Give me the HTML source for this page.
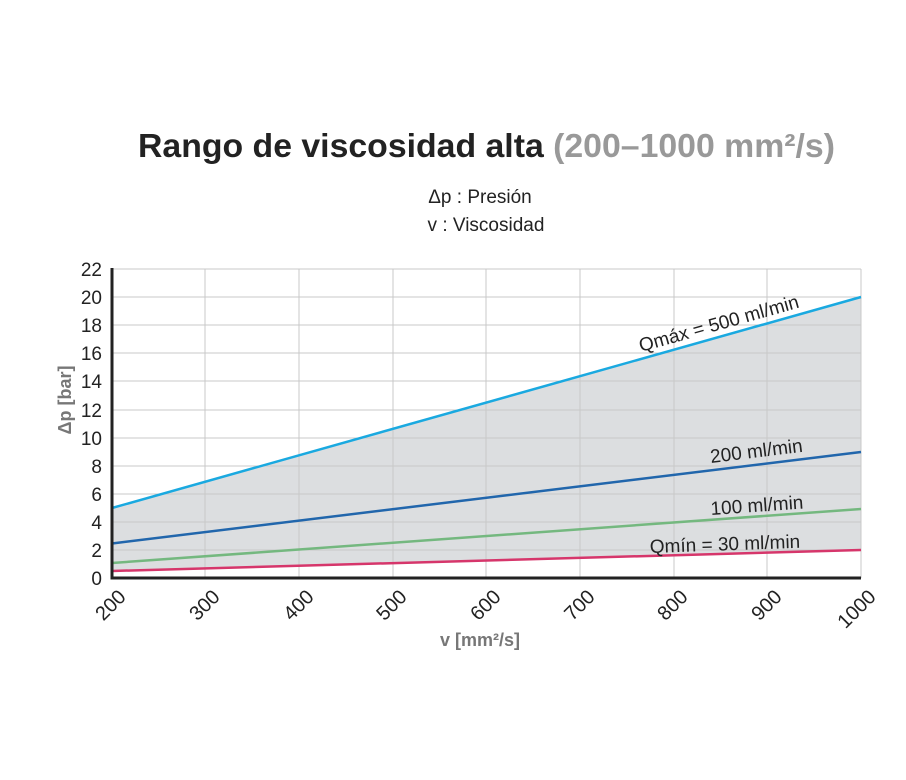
<!DOCTYPE html><html><head><style>body{margin:0;background:#fff}svg{display:block}text{font-family:"Liberation Sans",sans-serif}</style></head><body>
<svg width="906" height="780" xmlns="http://www.w3.org/2000/svg">
<text x="138" y="157" font-size="33" font-weight="bold" fill="#222" textLength="697" lengthAdjust="spacingAndGlyphs">Rango de viscosidad alta <tspan fill="#999">(200–1000 mm²/s)</tspan></text>
<text x="480" y="203" text-anchor="middle" font-size="19" fill="#222">Δp : Presión</text>
<text x="486" y="231" text-anchor="middle" font-size="19" fill="#222">v : Viscosidad</text>
<polygon points="112,508 861,297 861,550 112,571" fill="#dcdee0"/>
<g stroke="#c8c8c8" stroke-width="1">
<line x1="112" y1="550" x2="861" y2="550"/><line x1="112" y1="522" x2="861" y2="522"/><line x1="112" y1="494" x2="861" y2="494"/><line x1="112" y1="466" x2="861" y2="466"/><line x1="112" y1="438" x2="861" y2="438"/><line x1="112" y1="410" x2="861" y2="410"/><line x1="112" y1="381" x2="861" y2="381"/><line x1="112" y1="353" x2="861" y2="353"/><line x1="112" y1="325" x2="861" y2="325"/><line x1="112" y1="297" x2="861" y2="297"/><line x1="112" y1="269" x2="861" y2="269"/>
<line x1="205" y1="269" x2="205" y2="578"/><line x1="299" y1="269" x2="299" y2="578"/><line x1="393" y1="269" x2="393" y2="578"/><line x1="486" y1="269" x2="486" y2="578"/><line x1="580" y1="269" x2="580" y2="578"/><line x1="674" y1="269" x2="674" y2="578"/><line x1="767" y1="269" x2="767" y2="578"/><line x1="861" y1="269" x2="861" y2="578"/>
</g>
<g fill="none" stroke-width="2.5">
<line x1="112" y1="508" x2="861" y2="297" stroke="#1aa9e0"/>
<line x1="112" y1="543.5" x2="861" y2="452" stroke="#2166ac"/>
<line x1="112" y1="563" x2="861" y2="509" stroke="#74b87f"/>
<line x1="112" y1="571" x2="861" y2="550" stroke="#d6366b"/>
</g>
<path d="M112,268 V578 H861" fill="none" stroke="#222" stroke-width="3"/>
<g font-size="19" fill="#222" text-anchor="end">
<text x="102" y="585">0</text><text x="102" y="557">2</text><text x="102" y="529">4</text><text x="102" y="501">6</text><text x="102" y="473">8</text><text x="102" y="445">10</text><text x="102" y="417">12</text><text x="102" y="388">14</text><text x="102" y="360">16</text><text x="102" y="332">18</text><text x="102" y="304">20</text><text x="102" y="276">22</text>
</g>
<g font-size="20" fill="#222" text-anchor="end">
<text transform="translate(127,598) rotate(-45)">200</text><text transform="translate(221,598) rotate(-45)">300</text><text transform="translate(315,598) rotate(-45)">400</text><text transform="translate(408,598) rotate(-45)">500</text><text transform="translate(502,598) rotate(-45)">600</text><text transform="translate(596,598) rotate(-45)">700</text><text transform="translate(689,598) rotate(-45)">800</text><text transform="translate(783,598) rotate(-45)">900</text><text transform="translate(877,598) rotate(-45)">1000</text>
</g>
<text x="480" y="646" text-anchor="middle" font-size="18" font-weight="bold" fill="#777">v [mm²/s]</text>
<text transform="translate(71,400) rotate(-90)" text-anchor="middle" font-size="18" font-weight="bold" fill="#777">Δp [bar]</text>
<g font-size="19" fill="#222">
<text transform="translate(641,352) rotate(-15.7)">Qmáx = 500 ml/min</text>
<text transform="translate(711,463) rotate(-7)">200 ml/min</text>
<text transform="translate(711,515) rotate(-4)">100 ml/min</text>
<text transform="translate(650,553) rotate(-2)">Qmín = 30 ml/min</text>
</g>
</svg></body></html>
